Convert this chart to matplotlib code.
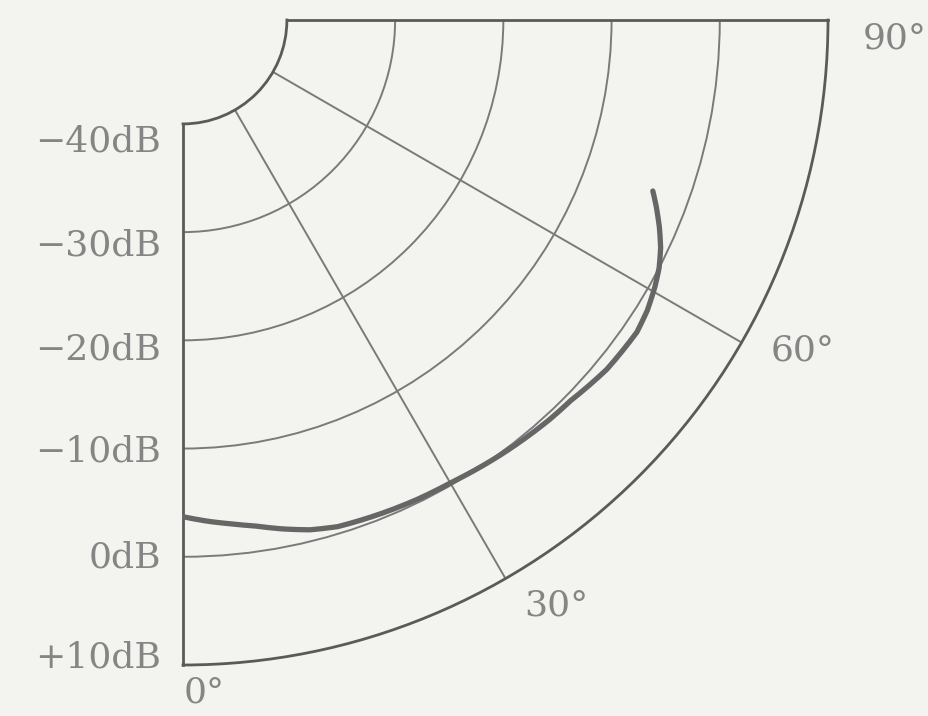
import numpy as np
import matplotlib
matplotlib.use("Agg")
import matplotlib.pyplot as plt
from matplotlib.transforms import offset_copy

# Measured response (angle in degrees, level in dB)
angles_deg = [0, 3, 5, 8, 11, 14, 17, 22, 26, 30, 36, 42.5, 45.5, 50.5, 55.5, 58, 60.5, 62.5, 64.5, 66.5, 68.5, 70]
level_db = [-3.7, -3.2, -2.9, -2.4, -1.7, -1.05, -0.65, -0.45, -0.3, -0.2, 0.15, 0.5, 0.6, 1.15, 1.3, 1.0, 0.5, 0.0, -0.7, -1.6, -2.6, -3.4]

r_ticks = [-40, -30, -20, -10, 0, 10]
r_tick_labels = ["\u221240dB", "\u221230dB", "\u221220dB", "\u221210dB", "0dB", "+10dB"]
theta_ticks = [0, 30, 60, 90]
theta_tick_labels = ["0\u00b0", "30\u00b0", "60\u00b0", "90\u00b0"]

bg = "#f3f3ef"
ink = "#5a5a5a"
grid_c = "#7a7a7a"
text_c = "#858585"
curve_c = "#666666"

fig = plt.figure(figsize=(9.29, 7.16), dpi=100, facecolor=bg)
ax = fig.add_axes([183 / 929, 51 / 716, 645 / 929, 645 / 716], projection="polar")
ax.set_facecolor(bg)

ax.set_theta_zero_location("S")
ax.set_theta_direction(1)
ax.set_thetamin(0)
ax.set_thetamax(90)
ax.set_rlim(-40, 10)
ax.set_rorigin(-49.6)

# grid
ax.set_yticks([-30, -20, -10, 0])
ax.set_yticklabels([])
ax.set_xticks(np.deg2rad([30, 60]))
ax.set_xticklabels([])
ax.grid(True, color=grid_c, linewidth=1.4)
ax.tick_params(length=0)

for sp in ax.spines.values():
    sp.set_color(ink)
    sp.set_linewidth(2.0)

# response curve, bent along the polar grid between samples
line, = ax.plot(np.deg2rad(angles_deg), level_db, color=curve_c, linewidth=3.8,
                solid_capstyle="round", solid_joinstyle="round", zorder=5)
line.get_path()._interpolation_steps = 12

font = dict(family="DejaVu Serif", size=26, color=text_c)

# radial level labels along the left edge
label_shift_px = [-18, -13, -9, -3, -1, 7]
for val, lab, dy in zip(r_ticks, r_tick_labels, label_shift_px):
    tr = offset_copy(ax.transData, fig=fig, x=-22, y=dy, units="dots")
    ax.text(0, val, lab, transform=tr, ha="right", va="center",
            clip_on=False, **font)

# angle labels outside the outer arc
theta_label_pos = [(1.8, 12.6), (32.5, 14.6), (61.9, 15.3), (88.5, 16.2)]
for (th, rr), lab in zip(theta_label_pos, theta_tick_labels):
    ax.text(np.deg2rad(th), rr, lab, ha="center", va="center",
            clip_on=False, **font)

fig.savefig("out.png", dpi=100, facecolor=bg)
